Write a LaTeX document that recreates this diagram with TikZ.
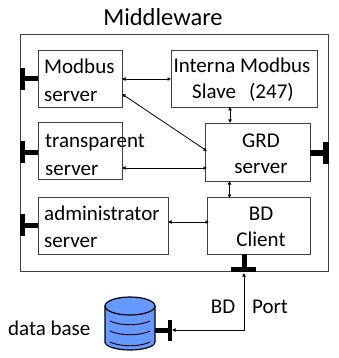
\documentclass[tikz,border=0pt]{standalone}
\usepackage{fontspec}
\setmainfont{Carlito}
\usetikzlibrary{arrows.meta}
\definecolor{dbblue}{HTML}{6699FF}
\tikzset{
  frame/.style={draw=black!75,line width=0.9pt},
  lbl/.style={inner sep=0pt,font=\fontsize{21}{24}\selectfont,text=black},
  titlelbl/.style={inner sep=0pt,font=\fontsize{24.5}{28}\selectfont,text=black},
  link/.style={draw=black,line width=0.8pt,{Latex[length=3.5pt,width=4pt]}-{Latex[length=3.5pt,width=4pt]}},
  tbar/.style={fill=black,draw=none},
}
\begin{document}
\begin{tikzpicture}[x=1pt,y=-1pt]
\useasboundingbox (0,0) rectangle (338,358);
\coordinate (outerNW) at (20,34);
\coordinate (outerSE) at (328,271);
\draw[frame] (outerNW) rectangle (outerSE);
% boxes
\node[frame,minimum width=84pt,minimum height=57pt,inner sep=0pt] (modbus) at (80,78.5) {};
\node[frame,minimum width=84pt,minimum height=57pt,inner sep=0pt] (transp) at (80,150.5) {};
\node[frame,minimum width=130pt,minimum height=57pt,inner sep=0pt] (admin) at (103,225.5) {};
\node[frame,minimum width=146pt,minimum height=57pt,inner sep=0pt] (slave) at (244,78.5) {};
\node[frame,minimum width=105pt,minimum height=58pt,inner sep=0pt] (grd) at (257.5,152) {};
\node[frame,minimum width=103pt,minimum height=57pt,inner sep=0pt] (bd) at (258.5,225.5) {};
% T connectors
\fill[tbar] (20,68) rectangle (25,90);
\fill[tbar] (25,76.5) rectangle (38,81.5);
\fill[tbar] (20,141) rectangle (25,163);
\fill[tbar] (25,150) rectangle (38,155);
\fill[tbar] (20,214) rectangle (25,236);
\fill[tbar] (25,222.5) rectangle (38,227.5);
\fill[tbar] (323,142) rectangle (329,164);
\fill[tbar] (310,150.5) rectangle (323,155.5);
\fill[tbar] (231,267) rectangle (256,272);
\fill[tbar] (241.5,254) rectangle (247,267);
\fill[tbar] (168,320) rectangle (172,341);
\fill[tbar] (155,327.5) rectangle (168,332.5);
% links
\draw[link] (122,79) -- (171,79);
\draw[link] (122,94) -- (207,151);
\draw[link] (122,168) -- (207,168);
\draw[link] (230,107) -- (230,123);
\draw[link] (229.5,181) -- (229.5,198);
\draw[link] (168,222) -- (209,222);
\coordinate (portEnd) at (172,330);
\coordinate (portTop) at (244,273);
\draw[link] (portEnd) -- (244,330) -- (portTop);
% database
\draw[black,line width=1.2pt,fill=dbblue] (105,306) -- (105,342) arc[x radius=25,y radius=8,start angle=180,end angle=0] -- (155,306) arc[x radius=25,y radius=9,start angle=0,end angle=-180] -- cycle;
\draw[black,line width=1.2pt] (105,306) arc[x radius=25,y radius=9,start angle=180,end angle=0];
\draw[black,line width=0.9pt] (110,321) .. controls (120,326) and (140,326) .. (150,321);
\draw[black,line width=0.9pt] (110,331) .. controls (120,336) and (140,336) .. (150,331);
\draw[black,line width=0.9pt] (110,342) .. controls (120,347) and (140,347) .. (150,342);
% labels
\node[lbl,anchor=base west] (tm1) at (44,74) {Modbus};
\node[lbl,anchor=base west] (tm2) at (44,102) {server};
\node[lbl,anchor=base west] (tt1) at (45,147) {transparent};
\node[lbl,anchor=base west] (tt2) at (45,175) {server};
\node[lbl,anchor=base west] (ta1) at (44,220) {administrator};
\node[lbl,anchor=base west] (ta2) at (44,247) {server};
\node[lbl,anchor=base] (ts1) at (242,73) {Interna Modbus};
\node[lbl,anchor=base] (ts2) at (243,99) {Slave\ \ \,(247)};
\node[lbl,anchor=base] (tg1) at (261,147) {GRD};
\node[lbl,anchor=base] (tg2) at (261,173) {server};
\node[lbl,anchor=base] (tb1) at (261,220) {BD};
\node[lbl,anchor=base] (tb2) at (261,246) {Client};
\node[lbl,anchor=base] (tbd) at (223,313) {BD};
\node[lbl,anchor=base] (tport) at (270,313) {Port};
\node[lbl,anchor=base west] (tdb) at (8,335) {data base};
\node[titlelbl,anchor=base] (tmw) at (163,26) {Middleware};
\end{tikzpicture}
\end{document}
